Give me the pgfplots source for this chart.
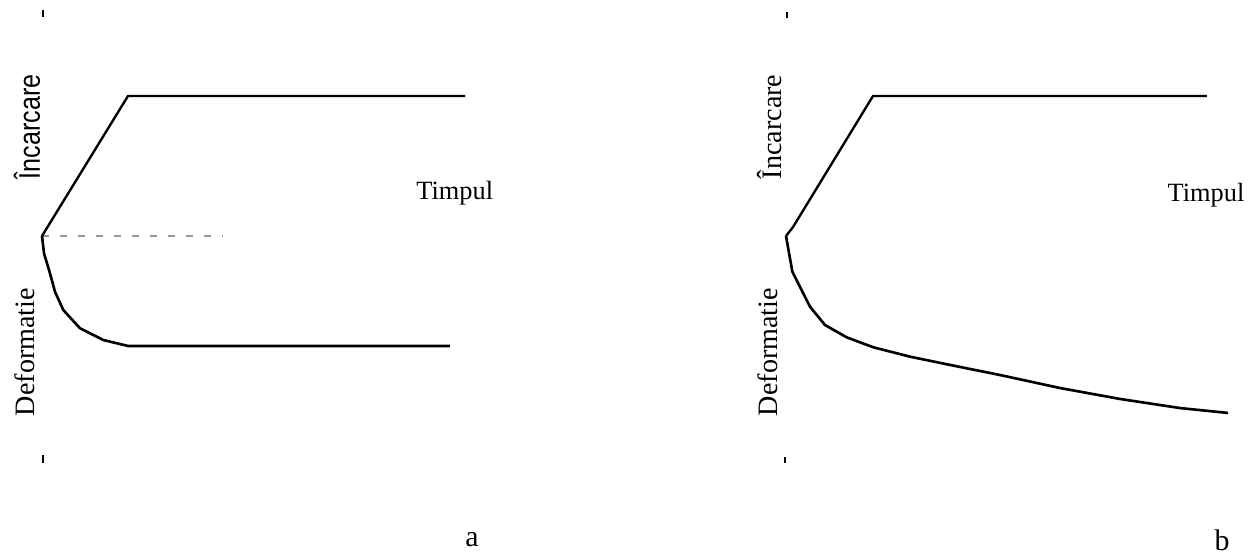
\documentclass[border=0pt]{standalone}
\usepackage{fontspec}
\setmainfont{Liberation Serif}
\newfontfamily\sansf{Liberation Sans}
\usepackage{pgfplots}
\pgfplotsset{compat=1.18}

% Load history (0 -> 1) and strain response (negative side) versus time
\pgfplotstableread{
t v
0 0
2.0 1.0
9.84 1.0
}\loadA
\pgfplotstableread{
t v
0 0
0.047 -0.124
0.186 -0.267
0.302 -0.398
0.496 -0.529
0.884 -0.659
1.426 -0.743
2.007 -0.786
9.488 -0.786
}\defA
\pgfplotstableread{
t v
0 0
0.163 0.064
2.023 1.0
9.79 1.0
}\loadB
\pgfplotstableread{
t v
0 0
0.147 -0.255
0.558 -0.505
0.907 -0.636
1.412 -0.724
2.030 -0.795
2.884 -0.862
3.814 -0.921
4.977 -0.993
6.372 -1.086
7.767 -1.164
9.163 -1.229
10.279 -1.264
}\defB

\pgfplotsset{
  panel/.style={
    scale only axis, width=12.5cm, height=11.14cm,
    ymin=-2.2929, ymax=1.6857,
    hide axis, clip=false, anchor=south west,
  },
  curve/.style={black, line width=1.35pt, no marks, line join=round},
  endtick/.style={black, line width=1.1pt, no marks},
}

\begin{document}
\begin{tikzpicture}
\path[use as bounding box] (0,0) rectangle (25cm,11.14cm);

% ---- panel a: elastic response ----
\begin{axis}[panel, at={(0,0)}, xmin=-0.9767, xmax=13.558]
  \addplot[endtick] coordinates {(0.02,1.614) (0.02,1.564)};
  \addplot[endtick] coordinates {(0.02,-1.564) (0.02,-1.621)};
  \addplot[gray!80, line width=0.6pt, dash pattern=on 0.14cm off 0.22cm, no marks]
    coordinates {(0,0) (4.19,0)};
  \addplot[curve] table[x=t,y=v] {\loadA};
  \addplot[curve, line width=1.5pt] table[x=t,y=v] {\defA};
  \node[rotate=90] at (axis cs:-0.349,0.779)
    {\sansf\fontsize{17}{20}\selectfont\scalebox{0.84}[1]{Încarcare}};
  \node[rotate=90] at (axis cs:-0.395,-0.829)
    {\fontsize{16}{19}\selectfont Deformatie};
  \node at (axis cs:9.60,0.307) {\fontsize{15}{18}\selectfont Timpul};
  \node at (axis cs:10.0,-2.171) {\fontsize{17}{20}\selectfont a};
\end{axis}

% ---- panel b: response with creep ----
\begin{axis}[panel, at={(12.5cm,0)}, xmin=-3.7442, xmax=10.7907]
  \addplot[endtick] coordinates {(0.023,1.600) (0.023,1.557)};
  \addplot[endtick] coordinates {(-0.023,-1.579) (-0.023,-1.621)};
  \addplot[curve] table[x=t,y=v] {\loadB};
  \addplot[curve, line width=1.5pt] table[x=t,y=v] {\defB};
  \node[rotate=90] at (axis cs:-0.372,0.779)
    {\fontsize{16}{19}\selectfont Încarcare};
  \node[rotate=90] at (axis cs:-0.419,-0.829)
    {\fontsize{16}{19}\selectfont Deformatie};
  \node at (axis cs:9.767,0.293) {\fontsize{15}{18}\selectfont Timpul};
  \node at (axis cs:10.14,-2.171) {\fontsize{17}{20}\selectfont b};
\end{axis}
\end{tikzpicture}
\end{document}
